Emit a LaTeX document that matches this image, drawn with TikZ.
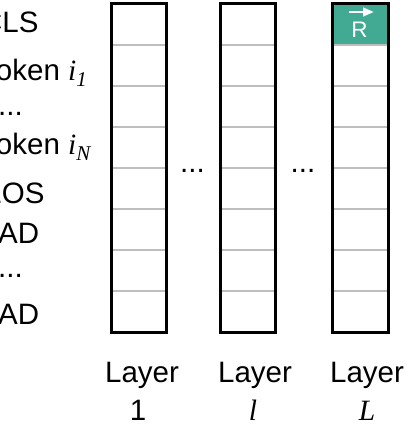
\documentclass[tikz,border=0pt]{standalone}
\usepackage{fontspec}
\setmainfont{Liberation Sans}
\newfontfamily\timesfam{Liberation Serif}
\usetikzlibrary{arrows.meta}
\definecolor{tealcell}{RGB}{66,170,147}
\definecolor{divgray}{RGB}{190,190,190}
\newcommand{\labsize}{\fontsize{29.5}{34}\selectfont}
\newcommand{\itvar}[1]{{\timesfam\itshape #1}}
\newcommand{\subit}[1]{\raisebox{-0.22em}{\fontsize{21}{22}\selectfont\timesfam\itshape #1}}
\begin{document}
\begin{tikzpicture}[x=1pt,y=-1pt,
  frame/.style={draw=black, line width=3pt},
  divider/.style={draw=divgray, line width=1.2pt},
  lbl/.style={font=\labsize, inner sep=0pt, anchor=base west},
  clbl/.style={font=\labsize, inner sep=0pt, anchor=base},
  rlbl/.style={font=\fontsize{22.5}{24}\selectfont, text=white, inner sep=0pt, anchor=base}]
\useasboundingbox (0,0) rectangle (419,436);
\clip (0,0) rectangle (419,436);
% teal cell
\fill[tealcell] (332,4) rectangle (388,45);
% dividers
\foreach \xa/\xb in {111/166, 220/275, 332/388} {
  \foreach \k in {1,...,7} {
    \draw[divider] (\xa,4+41*\k) -- (\xb,4+41*\k);
  }
}
% column frames
\draw[frame] (111,4) rectangle (166,332);
\draw[frame] (220,4) rectangle (275,332);
\draw[frame] (332,4) rectangle (388,332);
% R with arrow
\node[rlbl] (rtxt) at (359.5,37.5) {R};
\coordinate (arrs) at (349,12);
\coordinate (arre) at (374,12);
\draw[white, line width=2.8pt, -{Triangle[length=11pt,width=8.5pt]}] (arrs) -- (arre);
% left labels
\node[lbl] (cls) at (-19,33) {CLS};
\node[lbl] (tok1) at (-19,80) {Token \itvar{i}\subit{1}};
\node[lbl] (dots1) at (-2,115) {...};
\node[lbl] (tokN) at (-19,154) {Token \itvar{i}\subit{N}};
\node[lbl] (eos) at (-18,203) {EOS};
\node[lbl] (pad1) at (-19.5,243) {PAD};
\node[lbl] (dots2) at (-2,277) {...};
\node[lbl] (pad2) at (-19.5,324) {PAD};
% dots between columns
\node[clbl] (gap1) at (192.5,172) {...};
\node[clbl] (gap2) at (303,172) {...};
% layer labels
\node[clbl] (lay1) at (142,382) {Layer};
\node[clbl] (lay2) at (255,382) {Layer};
\node[clbl] (lay3) at (367,382) {Layer};
\node[clbl] (num1) at (138,420) {1};
\node[clbl] (num2) at (253,420) {\itvar{l}};
\node[clbl] (num3) at (367,420) {\itvar{L}};
\end{tikzpicture}
\end{document}
